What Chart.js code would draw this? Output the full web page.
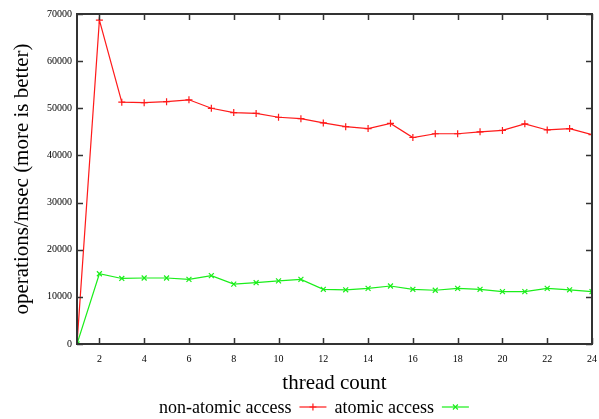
<!DOCTYPE html>
<html>
<head>
<meta charset="utf-8">
<script src="https://cdn.jsdelivr.net/npm/chart.js@4/dist/chart.umd.min.js"></script>
<style>
html,body{margin:0;padding:0;background:#fff;}
#wrap{width:599px;height:419px;position:relative;}
</style>
</head>
<body>
<div id="wrap"><canvas id="c" width="599" height="419"></canvas></div>
<script>
const threadCounts = [1,2,3,4,5,6,7,8,9,10,11,12,13,14,15,16,17,18,19,20,21,22,23,24];
const nonAtomic = [0,68700,51300,51200,51400,51800,50000,49100,48900,48100,47800,46900,46100,45700,46800,43800,44600,44600,45000,45300,46700,45400,45700,44400];
const atomic = [0,14900,13900,14000,14000,13700,14500,12700,13000,13400,13700,11600,11500,11800,12300,11600,11400,11800,11600,11100,11100,11800,11500,11100];
const xTicks = [2,4,6,8,10,12,14,16,18,20,22,24];
const yTicks = [0,10000,20000,30000,40000,50000,60000,70000];
const seriesNames = ['non-atomic access','atomic access'];
const xTitle = 'thread count';
const yTitle = 'operations/msec (more is better)';

const RED = '#ff1a1a';
const GREEN = '#1aee1a';
const SERIF = "'Liberation Serif', 'DejaVu Serif', serif";

const frame = {
  id:'frame',
  afterDatasetsDraw(chart){
    const {ctx, chartArea:a, scales:{x,y}} = chart;
    ctx.save();
    ctx.strokeStyle = '#333';
    ctx.lineWidth = 1.5;
    ctx.beginPath();
    xTicks.forEach(v=>{
      const px = Math.round(x.getPixelForValue(v))+0.5;
      ctx.moveTo(px,a.bottom); ctx.lineTo(px,a.bottom-6);
      ctx.moveTo(px,a.top); ctx.lineTo(px,a.top+6);
    });
    yTicks.forEach(v=>{
      const py = Math.round(y.getPixelForValue(v))+0.5;
      ctx.moveTo(a.left,py); ctx.lineTo(a.left+6,py);
      ctx.moveTo(a.right,py); ctx.lineTo(a.right-6,py);
    });
    ctx.stroke();
    ctx.lineWidth = 2;
    ctx.strokeRect(a.left, a.top, a.right-a.left, a.bottom-a.top);
    ctx.restore();
  },
  afterDraw(chart){
    const ctx = chart.ctx;
    ctx.save();
    ctx.font = "18px " + SERIF;
    ctx.textBaseline = 'alphabetic';
    ctx.fillStyle = '#000';
    const yb = 413, ym = 407;
    const items = [
      {text: seriesNames[0], color: RED, style:'cross'},
      {text: seriesNames[1], color: GREEN, style:'crossRot'}
    ];
    let xpos = 159;
    items.forEach(it=>{
      ctx.fillStyle = '#000';
      ctx.fillText(it.text, xpos, yb);
      const w = ctx.measureText(it.text).width;
      const s = xpos + w + 8, e = s + 27;
      ctx.strokeStyle = it.color;
      ctx.lineWidth = 1.2;
      ctx.beginPath(); ctx.moveTo(s, ym); ctx.lineTo(e, ym); ctx.stroke();
      Chart.helpers.drawPoint(ctx, {pointStyle: it.style, radius: 3.5, borderWidth: 1.2}, (s+e)/2, ym);
      xpos = e + 8;
    });
    ctx.restore();
  }
};

new Chart(document.getElementById('c'), {
  type: 'line',
  data: {
    datasets: [
      {label: seriesNames[0], data: threadCounts.map((t,i)=>({x:t,y:nonAtomic[i]})),
       borderColor: RED, backgroundColor: RED, borderWidth: 1.2, pointStyle:'cross', pointRadius:3.5, pointBorderWidth:1.2, tension:0},
      {label: seriesNames[1], data: threadCounts.map((t,i)=>({x:t,y:atomic[i]})),
       borderColor: GREEN, backgroundColor: GREEN, borderWidth: 1.2, pointStyle:'crossRot', pointRadius:3.5, pointBorderWidth:1.2, tension:0}
    ]
  },
  options: {
    responsive: false,
    animation: false,
    layout: {padding: {top: 14, right: 7, bottom: 22, left: 0}},
    plugins: {legend: {display:false}, tooltip: {enabled:false}},
    scales: {
      x: {
        type: 'linear', min: 1, max: 24,
        afterBuildTicks: s => { s.ticks = xTicks.map(v=>({value:v})); },
        afterFit: s => { s.height = 53; s.paddingRight = 0; s.paddingLeft = 0; },
        grid: {display:false, drawTicks:false},
        border: {display:false},
        ticks: {font:{family:SERIF, size:10}, color:'#000', padding:9, maxRotation:0},
        title: {display:true, text:xTitle, font:{family:SERIF, size:21}, color:'#000', padding:{top:0,bottom:1}}
      },
      y: {
        type: 'linear', min: 0, max: 70000,
        afterBuildTicks: s => { s.ticks = yTicks.map(v=>({value:v})); },
        afterFit: s => { s.width = 77; s.paddingTop = 0; s.paddingBottom = 0; },
        grid: {display:false, drawTicks:false},
        border: {display:false},
        ticks: {font:{family:SERIF, size:10}, color:'#000', padding:5, callback: v => String(v)},
        title: {display:true, text:yTitle, font:{family:SERIF, size:21}, color:'#000', padding:{top:10,bottom:0}}
      }
    }
  },
  plugins: [frame]
});
</script>
</body>
</html>
